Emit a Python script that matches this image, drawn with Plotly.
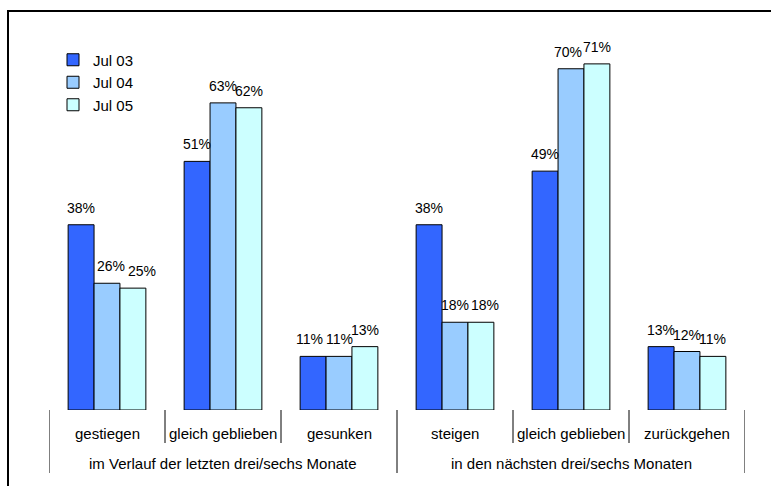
import plotly.graph_objects as go

# Survey answers, grouped by time frame
groups = ["im Verlauf der letzten drei/sechs Monate", "in den nächsten drei/sechs Monaten"]
categories = ["gestiegen", "gleich geblieben", "gesunken",
              "steigen", "gleich geblieben", "zurückgehen"]
series_names = ["Jul 03", "Jul 04", "Jul 05"]
jul03 = [38, 51, 11, 38, 49, 13]
jul04 = [26, 63, 11, 18, 70, 12]
jul05 = [25, 62, 13, 18, 71, 11]
colors = ["#3366FF", "#99CCFF", "#CCFFFF"]

FONT = "Liberation Sans, Arial, Helvetica, sans-serif"
x_idx = list(range(len(categories)))
BARGAP = 0.33
bar_w = (1 - BARGAP) / len(series_names)

# sideways nudges (px) for value labels that would otherwise collide
label_nudge = {(1, 0): 4, (2, 0): 9, (2, 3): 4, (0, 2): -4, (1, 4): -3}

fig = go.Figure()
annotations = []
for k, (name, vals, col) in enumerate(zip(series_names, [jul03, jul04, jul05], colors)):
    fig.add_trace(go.Bar(
        x=x_idx, y=vals, name=name, legendgroup=name,
        marker=dict(color=col, line=dict(color="black", width=1)),
        cliponaxis=False,
    ))
    # value labels above each bar
    off = (k - 1) * bar_w
    for i, v in zip(x_idx, vals):
        annotations.append(dict(x=i + off, xref="x", y=v, yref="y", yshift=7,
                                xshift=label_nudge.get((k, i), 0),
                                yanchor="bottom", text=f"{v}%", showarrow=False,
                                font=dict(family=FONT, size=14, color="black")))

# empty helper subplot whose axis lines form the outer frame (top + left)
fig.add_trace(go.Scatter(x=[], y=[], xaxis="x2", yaxis="y2",
                         showlegend=False, hoverinfo="skip"))

W, H = 771, 486
ml, mt = 9, 12                      # frame corner
pw, ph = W - ml, H - mt             # paper area
plot_l, plot_r, plot_t, plot_b = 49, 745, 20, 410
plot_h = plot_b - plot_t


def py(px):
    """pixels below the axis -> fraction of the y domain"""
    return -px / plot_h


line = dict(color="black", width=1)
shapes = []
# short dividers between categories
for b in [0.5, 1.5, 3.5, 4.5]:
    shapes.append(dict(type="line", xref="x", yref="y domain", x0=b, x1=b,
                       y0=0, y1=py(33), line=line))
# long dividers around the two groups
for b in [-0.5, 2.5, 5.5]:
    shapes.append(dict(type="line", xref="x", yref="y domain", x0=b, x1=b,
                       y0=0, y1=py(63), line=line))

for i, c in enumerate(categories):
    annotations.append(dict(x=i, xref="x", y=0, yref="y domain", yshift=-23,
                            text=c, showarrow=False, yanchor="middle",
                            font=dict(family=FONT, size=15, color="black")))
for g, center in zip(groups, [1, 4]):
    annotations.append(dict(x=center, xref="x", y=0, yref="y domain", yshift=-53,
                            text=g, showarrow=False, yanchor="middle",
                            font=dict(family=FONT, size=15, color="black")))

hidden = dict(showticklabels=False, showgrid=False, zeroline=False, ticks="")
frame_axis = dict(showline=True, linecolor="black", linewidth=2,
                  range=[0, 1], fixedrange=True, **hidden)

fig.update_layout(
    width=W, height=H,
    margin=dict(l=ml, r=0, t=mt, b=0),
    paper_bgcolor="white", plot_bgcolor="rgba(0,0,0,0)",
    barmode="group", bargap=BARGAP, bargroupgap=0,
    font=dict(family=FONT, size=15, color="black"),
    xaxis=dict(range=[-0.5, 5.5], showline=False,
               domain=[(plot_l - ml) / pw, (plot_r - ml) / pw], **hidden),
    yaxis=dict(range=[0, 80], visible=False,
               domain=[(H - plot_b) / ph, (H - plot_t) / ph]),
    xaxis2=dict(domain=[0, 1], anchor="y2", side="top", **frame_axis),
    yaxis2=dict(domain=[0, 1], anchor="x2", side="left", **frame_axis),
    legend=dict(x=(53 - ml) / pw, y=(H - 43.5) / ph, xanchor="left", yanchor="top",
                bgcolor="rgba(0,0,0,0)", font=dict(family=FONT, size=15),
                itemwidth=30, traceorder="normal", tracegroupgap=3),
    shapes=shapes, annotations=annotations,
)

fig.write_html("out.html")
